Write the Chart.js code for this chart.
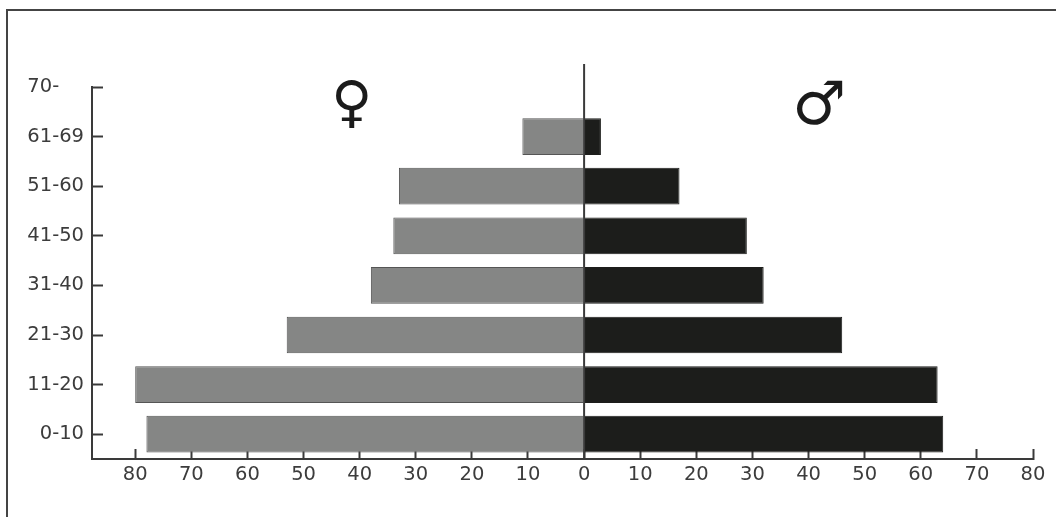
<!DOCTYPE html>
<html>
<head>
    <title>Age pyramid</title>
    <script src="https://cdn.jsdelivr.net/npm/chart.js"></script>
    <style>
        html, body { margin: 0; padding: 0; background: #fff; overflow: hidden; }
        .frame { position: absolute; left: 6px; top: 9px; right: -4px; bottom: -4px; border: 2px solid #444; }
        canvas { position: absolute; left: 0; top: 0; }
    </style>
</head>
<body>
    <div class="frame"></div>
    <canvas id="pyramid" width="1056" height="517"></canvas>
    <script>
        const ageGroups = ['0-10', '11-20', '21-30', '31-40', '41-50', '51-60', '61-69', '70-'];
        const women = [78, 80, 53, 38, 34, 33, 11];
        const men = [64, 63, 46, 32, 29, 17, 3];

        const axisColor = '#3a3a3a';
        const textColor = '#3c3c3c';
        const tickFont = { family: 'DejaVu Sans', size: 19.5 };

        // centre line and the two gender signs
        const extras = {
            id: 'extras',
            afterDatasetsDraw(chart) {
                const { ctx, scales } = chart;
                const zero = scales.x.getPixelForValue(0);
                ctx.save();
                ctx.strokeStyle = axisColor;
                ctx.lineWidth = 2;
                ctx.beginPath();
                ctx.moveTo(zero, 64);
                ctx.lineTo(zero, scales.y.bottom);
                ctx.stroke();
                ctx.fillStyle = '#1b1b1b';
                ctx.textAlign = 'center';
                ctx.textBaseline = 'middle';
                ctx.font = 'bold 56px "DejaVu Sans"';
                ctx.fillText('♀', scales.x.getPixelForValue(-41.4), 106);
                ctx.font = 'bold 60px "DejaVu Sans"';
                ctx.fillText('♂', scales.x.getPixelForValue(41.9), 108);
                ctx.restore();
            }
        };

        new Chart(document.getElementById('pyramid'), {
            type: 'bar',
            data: {
                datasets: [{
                    label: 'Women',
                    data: women.map((v, i) => ({ x: -v, y: i })),
                    backgroundColor: '#858685',
                    borderColor: '#555',
                    borderWidth: 1
                }, {
                    label: 'Men',
                    data: men.map((v, i) => ({ x: v, y: i })),
                    backgroundColor: '#1c1d1b',
                    borderColor: '#1c1d1b',
                    borderWidth: 1
                }]
            },
            plugins: [extras],
            options: {
                indexAxis: 'y',
                responsive: false,
                animation: false,
                layout: { padding: { top: 87, right: 23, bottom: 0, left: 0 } },
                plugins: { legend: { display: false }, tooltip: { enabled: false } },
                datasets: { bar: { barPercentage: 0.74, categoryPercentage: 1 } },
                scales: {
                    x: {
                        type: 'linear',
                        stacked: true,
                        min: -87.7,
                        max: 80,
                        afterBuildTicks(scale) {
                            const ticks = [];
                            for (let v = -80; v <= 80; v += 10) ticks.push({ value: v });
                            scale.ticks = ticks;
                        },
                        afterFit(scale) {
                            scale.height = 58;
                            scale.paddingRight = 0; // tick padding would otherwise pull the plot in
                        },
                        border: { color: axisColor, width: 2 },
                        grid: { drawOnChartArea: false, tickLength: -10, tickColor: axisColor, tickWidth: 2 },
                        ticks: {
                            color: textColor,
                            font: tickFont,
                            padding: 14,
                            maxRotation: 0,
                            autoSkip: false,
                            callback: v => String(Math.abs(v))
                        }
                    },
                    y: {
                        type: 'linear',
                        stacked: true,
                        offset: false,
                        min: -0.5,
                        max: 7,
                        afterBuildTicks(scale) {
                            scale.ticks = ageGroups.map((a, i) => ({ value: i }));
                        },
                        afterFit(scale) { scale.width = 92; },
                        border: { color: axisColor, width: 2 },
                        grid: { offset: false, drawOnChartArea: false, tickLength: -11, tickColor: axisColor, tickWidth: 2 },
                        ticks: {
                            color: textColor,
                            font: tickFont,
                            padding: 19,
                            autoSkip: false,
                            // the top label sits flush left with the others in the original
                            callback: v => v === 7 ? ageGroups[v] + '\u00a0\u00a0\u00a0\u00a0' : ageGroups[v]
                        }
                    }
                }
            }
        });
    </script>
</body>
</html>
